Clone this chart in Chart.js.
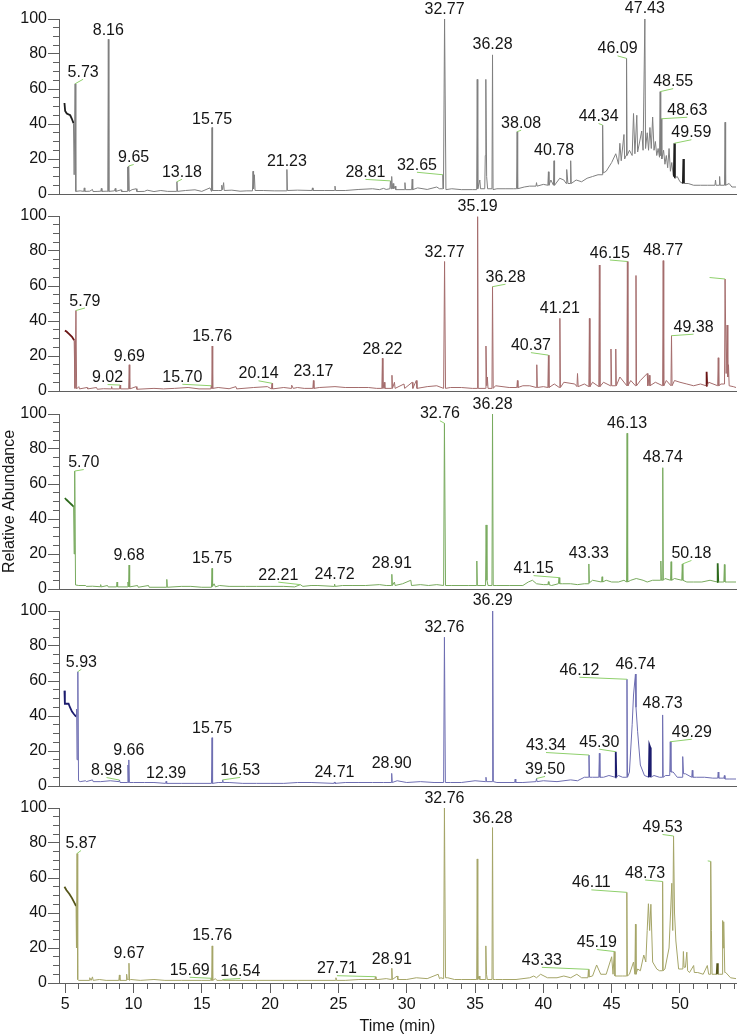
<!DOCTYPE html>
<html><head><meta charset="utf-8">
<script src="https://cdn.jsdelivr.net/npm/chart.js@4.4.1/dist/chart.umd.min.js"></script>
<style>
html,body{margin:0;padding:0;background:#fff;width:737px;height:1036px;overflow:hidden;position:relative}
canvas{position:absolute;left:0}
</style></head><body>
<script>
// ---------------- DATA ----------------
const xTickLabels = [5,10,15,20,25,30,35,40,45,50];
const yTickLabels = [0,20,40,60,80,100];

// trace points [time (min), relative abundance]
const trace1 = [[4.95,52],[5.0,47.5],[5.12,46],[5.37,45],[5.49,43],[5.61,40.5],[5.66,11],[5.73,63],[5.78,1.5],
[6.1,1.8],[6.36,1.5],[6.4,3.5],[6.44,1.5],[6.8,1.6],[7.0,2.6],[7.04,1.4],[7.4,1.5],[7.61,1.6],[7.65,3.2],[7.69,1.5],[8.0,1.6],[8.12,1.5],[8.16,88.4],[8.2,1.5],[8.6,1.8],[8.67,3.2],[8.71,1.5],[9.1,2.4],[9.14,1.4],[9.54,1.5],[9.58,15.5],[9.61,2],[9.65,16],[9.69,1.5],[9.9,2.5],[10.2,3],[10.25,1.4],[10.8,1.5],[11.0,2.2],[11.5,1.4],[12.0,2],[12.5,1.5],[13.14,1.5],[13.18,7],[13.22,1.5],[13.8,2],[14.5,2.4],[15.0,1.5],[15.6,3.5],[15.71,1.5],[15.75,38],[15.79,2],[16.2,2],[16.42,2],[16.46,5],[16.52,2.5],[16.6,6.5],[16.64,2],[17.2,2.2],[17.8,1.6],[18.3,1.8],[18.71,1.8],[18.75,13],[18.79,3],[18.85,11],[18.9,2],[19.5,2],[20.3,1.8],[21.19,1.8],[21.23,14],[21.27,2],[22.0,2.2],[23.06,2],[23.1,3.5],[23.14,2],[24.0,2],[24.71,2],[24.75,4.5],[24.79,2],[25.5,2],[26.5,2.6],[27.5,3],[28.0,2.5],[28.3,3.2],[28.5,2.6],[28.77,3],[28.81,7.5],[28.85,3],[28.9,10],[28.94,3],[29.0,6],[29.05,3],[29.15,4.5],[29.2,2.5],[29.83,2.5],[29.87,6.5],[29.91,2.5],[30.36,2.5],[30.4,8.5],[30.44,2.5],[30.8,3.5],[31.5,2.6],[32.2,4],[32.4,3],[32.61,3],[32.65,11],[32.69,3],[32.77,100],[32.87,2.5],[33.3,3],[34.0,2.5],[34.8,2.5],[35.12,2.5],[35.16,65.5],[35.2,3],[35.35,8],[35.4,3],[35.71,3],[35.75,22],[35.79,65.5],[35.85,10],[35.92,3],[36.24,3],[36.28,79.5],[36.32,2.5],[36.6,3],[37.2,3],[37.8,3],[38.04,3],[38.08,35.6],[38.12,3],[38.6,4],[39.0,4.5],[39.46,4.5],[39.5,6.5],[39.54,4.5],[40.0,5.5],[40.33,5],[40.37,12.7],[40.41,5],[40.55,8],[40.74,5],[40.78,19],[40.82,5],[41.2,9],[41.5,8],[41.67,6],[41.71,14],[41.8,6],[41.96,6],[42.0,19],[42.04,6],[42.4,8],[42.8,7],[43.2,9],[43.6,10],[44.0,11],[44.3,11],[44.34,39.4],[44.38,12],[44.6,13],[45.0,18],[45.3,23],[45.5,17],[45.6,29],[45.7,19],[45.9,34],[45.95,20],[46.05,22],[46.09,77.5],[46.13,22],[46.3,25],[46.5,22],[46.6,46],[46.7,23],[46.84,45],[46.9,24],[47.2,36],[47.3,25],[47.43,100],[47.48,26],[47.6,35],[47.7,25],[47.8,38],[47.9,26],[48.0,44],[48.1,25],[48.2,30],[48.3,22],[48.4,26],[48.5,21],[48.55,58.5],[48.59,22],[48.63,43],[48.67,20],[48.8,25],[48.9,17],[49.0,22],[49.1,15],[49.2,26],[49.3,13],[49.4,18],[49.5,11],[49.55,10],[49.59,29],[49.63,9],[49.8,10],[50.0,7],[50.21,6],[50.25,20],[50.29,6],[50.6,6],[51.0,5],[51.5,5],[52.0,5],[52.56,5],[52.6,8],[52.64,5],[52.86,5],[52.9,10],[52.94,5],[53.26,5],[53.3,41],[53.34,5],[53.6,6],[53.8,4],[54.1,4]];

const trace2 = [[4.98,34.5],[5.1,34],[5.3,32.5],[5.5,31],[5.66,29],[5.72,1.5],[5.79,46],[5.84,1.2],[6.0,2.5],[6.05,1.2],[6.6,2],[6.65,1.2],[7.3,2],[7.35,1],[7.8,1.3],[8.36,1.2],[8.4,2.5],[8.44,1.2],[8.98,1.2],[9.02,3.4],[9.06,1.2],[9.65,1.2],[9.69,15],[9.73,1.2],[10.2,2.5],[10.25,1],[11.5,1.5],[12.2,1.2],[13.0,1.5],[14.0,2],[14.8,1.2],[15.66,1.2],[15.70,3],[15.73,1.5],[15.76,25.7],[15.8,1.5],[16.2,2],[17.0,1.3],[17.5,2.5],[17.55,1.2],[18.8,2],[19.8,2.5],[20.1,1.2],[20.14,4.4],[20.18,1.2],[21.0,2],[21.54,1.5],[21.58,3.3],[21.7,1.5],[22.0,2],[22.5,1.5],[23.13,1.5],[23.17,6],[23.21,1.5],[23.6,2],[24.75,2.5],[25.5,2],[26.5,2],[27.2,2],[27.8,1.5],[28.18,1.5],[28.22,18.7],[28.26,1.5],[28.35,5],[28.4,1.5],[28.88,1.5],[28.92,9],[28.96,1.5],[29.1,5],[29.15,1.5],[29.8,4],[29.85,1.5],[30.4,5],[30.45,1.5],[30.7,6],[30.75,1.5],[31.5,2.5],[32.2,3],[32.7,1.5],[32.77,74],[32.84,1.5],[33.2,2],[34.0,2],[34.8,1.5],[35.15,1.5],[35.19,99.6],[35.23,1.5],[35.76,1.5],[35.8,25.7],[35.86,3],[35.9,8],[35.95,1.5],[36.24,1.5],[36.28,59.6],[36.33,1.5],[36.5,3],[37.5,2],[38.06,2],[38.1,6],[38.14,2],[38.5,3],[39.0,3],[39.48,2],[39.52,15],[39.56,2],[40.0,2.5],[40.33,2],[40.37,20.5],[40.41,2],[40.8,4],[41.17,2],[41.21,41.5],[41.25,2],[41.5,5],[42.3,4],[42.46,2.5],[42.5,10],[42.55,2.5],[43.0,4],[43.33,2.5],[43.37,41.5],[43.41,2.5],[43.6,5],[44.06,2.5],[44.10,72],[44.14,2.5],[44.4,5],[44.91,3],[44.95,24],[45.0,3],[45.26,3],[45.3,24],[45.34,3],[45.6,8],[46.11,3],[46.15,74],[46.19,3],[46.4,6],[46.74,3],[46.78,66],[46.82,3],[47.1,6],[47.6,10],[47.65,3],[47.75,9],[47.8,3],[48.2,5],[48.73,3],[48.77,74.5],[48.81,3],[49.0,6],[49.34,3],[49.38,31.6],[49.42,3],[49.6,6],[50.0,5],[50.5,4],[51.0,3],[51.5,4],[51.91,3],[51.95,11],[51.99,3],[52.1,5],[52.76,3],[52.8,19],[52.84,3],[53.0,4],[53.26,4],[53.3,64],[53.38,10],[53.45,37.7],[53.5,8],[53.55,15],[53.6,3],[53.9,2.5],[54.1,2]];

const trace3 = [[4.98,52],[5.1,51],[5.3,49.5],[5.5,48],[5.62,47],[5.66,20],[5.70,67.4],[5.76,2.3],[6.0,2],[6.5,2],[6.55,1.5],[7.0,1.6],[7.56,1.3],[7.6,2.5],[7.64,1.2],[8.1,2],[8.15,1.2],[8.76,1.2],[8.8,4],[8.84,1.2],[9.56,1.2],[9.6,4],[9.64,1.2],[9.68,13.7],[9.72,1.2],[10.3,2],[10.35,1],[11.1,2],[11.15,1],[12.4,1],[12.44,5.5],[12.48,1],[13.5,1.5],[14.2,1.5],[15.0,1],[15.71,1],[15.75,11.8],[15.79,1.5],[15.9,3],[16.0,1.2],[16.3,2],[17.0,1.5],[18.2,1.5],[19.0,1.5],[20.0,1.5],[21.0,1.5],[21.8,1.2],[22.21,2.5],[22.4,1.5],[23.0,2],[23.5,2],[24.68,1.5],[24.72,2.8],[24.76,1.5],[25.3,2],[26.0,2],[27.0,2],[28.0,2.5],[28.5,2],[28.87,2],[28.91,8.4],[28.95,2],[29.1,4],[29.15,2],[29.7,3],[30.3,5],[30.35,2],[31.0,2.5],[31.6,2],[32.2,2.5],[32.7,2],[32.76,94.7],[32.84,2],[33.3,2],[34.5,2],[35.09,2],[35.13,16],[35.17,2],[35.77,2],[35.81,36.6],[35.87,5],[35.95,2],[36.24,2],[36.28,100],[36.33,2],[36.6,2],[37.5,2],[38.5,2],[38.9,4],[39.2,5],[39.5,3],[40.0,2.5],[40.33,2.5],[40.37,4.2],[40.41,2.5],[40.6,2],[41.1,3],[41.15,6.5],[41.2,3],[41.4,3],[42.0,3],[42.5,2.5],[43.0,3],[43.29,3],[43.33,14.3],[43.37,3.5],[43.6,5],[44.26,4],[44.3,7],[44.34,4],[44.6,5],[45.0,4],[45.5,4],[45.9,5],[46.09,4],[46.13,89],[46.17,4],[46.4,5],[46.8,6],[47.3,5],[47.6,4],[48.0,5],[48.56,5],[48.6,16],[48.64,5],[48.7,5],[48.74,69.3],[48.78,5],[48.9,6],[49.31,5],[49.35,15.6],[49.39,5],[49.6,6],[50.13,5],[50.17,14.3],[50.21,5],[50.5,4],[51.0,4],[51.6,4],[52.2,5],[52.72,4],[52.76,14.7],[52.8,4],[53.0,4],[53.21,4],[53.25,14],[53.29,4],[53.5,4],[54.1,4]];

const trace4 = [[4.95,54.5],[4.98,47],[5.25,47],[5.35,45],[5.5,42.5],[5.65,41],[5.8,39.6],[5.84,44],[5.87,15],[5.93,65.3],[5.98,3],[6.1,2.5],[6.5,3],[6.55,2.5],[7.0,3.5],[7.05,2.5],[7.6,2.5],[8.3,3],[8.94,2.5],[8.98,3.4],[9.02,2],[9.56,2],[9.60,12],[9.63,2],[9.66,14.9],[9.7,2],[10.0,2],[10.8,2],[11.5,2],[12.35,1.5],[12.39,2.7],[12.43,1.5],[13.5,1.5],[14.5,1.5],[15.71,1.5],[15.75,27.6],[15.79,1.5],[16.2,2],[16.49,2],[16.53,3.5],[16.57,2],[17.0,2],[18.0,1.5],[19.0,1.5],[20.0,1.5],[21.0,1.5],[22.0,2],[23.0,2],[24.67,1.5],[24.71,2.3],[24.75,1.5],[25.5,2],[26.5,2],[27.5,2],[28.3,2],[28.86,2],[28.90,7.2],[28.94,2],[29.3,3],[30.0,2],[31.0,2.5],[32.0,2],[32.7,2],[32.76,85],[32.83,2],[33.2,2],[34.0,2],[35.0,3],[35.76,2.5],[35.8,5],[35.84,2.5],[36.25,2.5],[36.29,100],[36.34,2.5],[36.6,2],[37.9,2],[37.94,4],[37.98,2],[38.5,2],[39.46,2.5],[39.50,4.3],[39.54,2.5],[40.0,3],[41.0,2.5],[42.0,3.5],[42.5,3],[43.0,5],[43.3,5],[43.34,17.7],[43.38,5],[43.6,5],[44.06,5],[44.10,18.7],[44.14,5],[44.4,5],[44.8,6],[45.26,5],[45.30,19.6],[45.34,5],[45.5,6],[45.8,5],[46.08,5],[46.12,61],[46.16,5],[46.3,8],[46.5,35],[46.6,52],[46.74,64],[46.78,45],[46.9,31],[47.1,12],[47.4,6],[47.72,5],[47.76,23.4],[47.82,22],[47.86,5],[48.1,6],[48.5,5],[48.69,5],[48.73,40.6],[48.77,5],[48.95,6],[49.25,6],[49.29,25.3],[49.34,8],[49.5,8],[49.8,5],[50.16,5],[50.2,16.8],[50.26,7],[50.4,7],[50.86,5],[50.9,9],[50.94,5],[51.2,5],[51.8,5],[52.4,4.5],[52.76,4.5],[52.8,8],[52.84,4.5],[53.21,4.5],[53.25,6],[53.29,4],[53.6,4],[54.1,4]];

const trace5 = [[4.95,55],[5.1,53],[5.3,51],[5.5,48.5],[5.7,45.5],[5.8,44],[5.83,20],[5.87,74],[5.92,2],[6.0,1.5],[6.76,1.5],[6.8,3],[6.9,1.5],[7.0,3.5],[7.05,1.5],[7.5,2],[8.0,1.5],[8.93,1.5],[8.97,4.6],[9.01,1.5],[9.46,1.5],[9.5,5],[9.55,2],[9.63,2],[9.67,11.3],[9.71,1.5],[9.8,2],[10.5,1.5],[11.5,2],[12.3,1.5],[13.5,1.5],[15.0,1.5],[15.65,1.5],[15.69,2.7],[15.72,1.5],[15.76,21.2],[15.8,1.5],[16.0,2.5],[16.1,1.5],[16.5,1.5],[16.54,2],[16.58,1.5],[17.5,1.5],[19.0,1.5],[20.0,1.5],[21.0,1.5],[22.0,1.5],[23.0,1.5],[24.78,1.5],[24.82,3],[24.86,1.5],[25.5,1.5],[26.5,2],[27.67,2],[27.71,3.6],[27.75,2],[27.9,2],[28.5,2.5],[28.87,2],[28.91,8.4],[28.95,2],[29.3,4],[29.35,2],[30.0,2],[30.7,3],[31.5,2.5],[32.3,5],[32.4,2.5],[32.5,3],[32.7,2.5],[32.76,100],[32.84,3],[33.0,3],[33.5,2],[34.0,2],[34.7,2],[35.12,2],[35.16,70.9],[35.2,2],[35.3,4],[35.35,2],[35.75,2],[35.79,21.2],[35.84,5],[35.9,2],[36.24,2],[36.28,88.8],[36.33,2],[36.5,2],[37.0,2],[38.0,2],[39.0,3],[39.3,4],[39.5,3],[39.8,5],[40.3,3],[41.0,3],[41.5,4],[42.0,3],[42.45,5],[42.8,3],[43.26,3],[43.30,7.8],[43.34,3.5],[43.6,4],[43.9,10.3],[44.2,5],[44.6,5],[45.0,15],[45.1,5],[45.15,5],[45.19,18],[45.24,4],[45.4,4],[45.8,4],[46.07,4],[46.11,51.8],[46.15,4],[46.3,5],[46.6,12],[46.7,5],[46.74,33.6],[46.78,5],[46.9,8],[47.1,7],[47.35,16],[47.5,12],[47.6,30],[47.69,45.3],[47.78,30],[47.87,45],[48.0,12],[48.3,8],[48.5,7],[48.69,7],[48.73,58],[48.77,7],[48.9,8],[49.2,20],[49.4,57],[49.47,30],[49.53,84],[49.6,40],[49.7,24],[49.9,8],[50.21,8],[50.25,18],[50.3,9],[50.4,9],[50.5,17.6],[50.56,7],[50.7,6],[51.0,10],[51.05,6],[51.3,6],[51.7,5],[52.0,10],[52.1,5],[52.21,5],[52.25,69.5],[52.3,30],[52.35,5],[52.5,5],[52.69,5],[52.73,11.3],[52.77,5],[52.9,5],[53.08,5],[53.12,35.7],[53.16,20],[53.2,35],[53.28,6],[53.35,6],[53.7,3],[54.1,2.5]];

// labelled peaks: retention time text and peak abundance
const peaks1Text = ['5.73','8.16','9.65','13.18','15.75','21.23','28.81','32.65','32.77','36.28','38.08','40.78','44.34','46.09','47.43','48.55','48.63','49.59'];
const peaks1Abund = [63,88.4,16,7,38,14,7.5,11,100,79.5,35.6,19,39.4,77.5,100,58.5,43,29];
const peaks2Text = ['5.79','9.02','9.69','15.70','15.76','20.14','23.17','28.22','32.77','35.19','36.28','40.37','41.21','46.15','48.77','49.38','53.30'];
const peaks2Abund = [46,3.4,15,3,25.7,4.4,6,18.7,74,99.6,59.6,20.5,41.5,74,74.5,31.6,64];
const peaks3Text = ['5.70','9.68','15.75','22.21','24.72','28.91','32.76','36.28','41.15','43.33','46.13','48.74','50.18'];
const peaks3Abund = [67.4,13.7,11.8,2.5,2.8,8.4,94.7,100,6.5,14.3,89,69.3,14.3];
const peaks4Text = ['5.93','8.98','9.66','12.39','15.75','16.53','24.71','28.90','32.76','36.29','39.50','43.34','45.30','46.12','46.74','48.73','49.29'];
const peaks4Abund = [65.3,3.4,14.9,2.7,27.6,3.5,2.3,7.2,85,100,4.3,17.7,19.6,61,64,40.6,25.3];
const peaks5Text = ['5.87','9.67','15.69','15.76','16.54','27.71','28.91','32.76','36.28','43.33','45.19','46.11','48.73','49.53','52.25'];
const peaks5Abund = [74,11.3,2.7,21.2,2,3.6,8.4,100,88.8,7.8,18,51.8,58,84,69.5];

// ---------------- STYLE / LAYOUT ----------------
const FONT = '"Liberation Sans", Arial, Helvetica, sans-serif';
const AXIS = '#5f5f5f';
const LEADER = '#8fd06c';
const X_MIN = 4.55, X_MAX = 54.1;
const AREA_TOP = [19,216,414,611,808];
const AREA_H = 175;
const PAD_TOP = 19, PAD_BOT = 12;
const panels = [
  {trace: trace1, text: peaks1Text, abund: peaks1Abund, color:'#7f7f7f', dark:'#1e1e1e',
   darkRanges:[[4.9,5.615],[49.54,49.64],[50.2,50.3]],
   hidden:[],
   offsets:[[8,-7],[0,-4],[5,-4],[5,-5],[0,-4],[0,-4],[-25,-4],[-26,-5],[0,-5],[0,-6],[4,-4],[0,-6],[-4,-4],[-9,-5],[0,-6],[13,-5.5],[26,-4],[17,-6]]},
  {trace: trace2, text: peaks2Text, abund: peaks2Abund, color:'#a46c6c', dark:'#6a1414',
   darkRanges:[[4.9,5.665],[51.9,52.0]],
   hidden:[16],
   offsets:[[9,-5],[-12.5,-3],[0,-4],[-29,-4],[0,-5],[-13.5,-5],[0,-5],[0,-4.5],[0,-5],[0,-6],[13,-5],[-17.5,-5],[0,-5.5],[-17.5,-4],[0,-5.5],[22,-4],[-15.5,-4]]},
  {trace: trace3, text: peaks3Text, abund: peaks3Abund, color:'#78aa5e', dark:'#2d6a1c',
   darkRanges:[[4.9,5.625],[52.7,52.81]],
   hidden:[],
   offsets:[[9,-4],[0,-5],[0,-5],[-22,-5],[0,-5.5],[0,-6],[-4.5,-5],[0,-5],[-25.5,-4.5],[0,-6],[0,-5.5],[0,-5.5],[9,-6]]},
  {trace: trace4, text: peaks4Text, abund: peaks4Abund, color:'#6e6eb2', dark:'#1c1c6e',
   darkRanges:[[4.9,5.805],[45.25,45.35],[47.7,47.9]],
   hidden:[],
   offsets:[[3.5,-5],[-13,-5],[0,-5],[0,-3.5],[0,-5],[17.5,-5],[0,-5],[0,-5],[0,-5.5],[0,-6],[8.5,-4.5],[-43,-5],[-16.5,-5],[-47.5,-4.5],[0,-5.5],[0,-6.5],[21.5,-5]]},
  {trace: trace5, text: peaks5Text, abund: peaks5Abund, color:'#a5a568', dark:'#55551a',
   darkRanges:[[4.9,5.805],[52.68,52.78]],
   hidden:[14],
   offsets:[[4,-5.5],[0,-5.5],[-21.5,-3.5],[0,-5.5],[17.5,-3.5],[-38.5,-3.5],[0,-4.5],[0,-5],[0,-5],[-47,-4.5],[-17.5,-4.5],[-35.5,-5],[-17.5,-4],[-11,-4],[-3,-3]]}
];

const peakLabelPlugin = {
  id: 'peakLabels',
  afterDatasetsDraw(chart, args, opts) {
    const {ctx} = chart;
    const xs = chart.scales.x, ys = chart.scales.y;
    ctx.save();
    ctx.font = '16px ' + FONT;
    ctx.textAlign = 'center';
    ctx.textBaseline = 'alphabetic';
    opts.text.forEach((t, k) => {
      const px = xs.getPixelForValue(parseFloat(t));
      const py = ys.getPixelForValue(opts.abund[k]);
      const [dx, dy] = opts.offsets[k];
      if (dx !== 0) {
        ctx.strokeStyle = LEADER; ctx.lineWidth = 1;
        ctx.beginPath(); ctx.moveTo(px, py); ctx.lineTo(px + dx, py + dy + 2.5); ctx.stroke();
      }
      if (!opts.hidden.includes(k)) {
        ctx.fillStyle = '#151515';
        ctx.fillText(t, px + dx, py + dy);
      }
    });
    ctx.restore();
  }
};

panels.forEach((p, i) => {
  const last = i === panels.length - 1;
  const top = AREA_TOP[i] - PAD_TOP;
  const h = last ? (1036 - top) : (AREA_H + PAD_TOP + PAD_BOT);
  const cv = document.createElement('canvas');
  cv.width = 737; cv.height = h;
  cv.style.top = top + 'px'; cv.style.width = '737px'; cv.style.height = h + 'px';
  document.body.appendChild(cv);
  const isDark = c => p.darkRanges.some(([a, b]) => c.p0.parsed.x >= a && c.p1.parsed.x <= b);
  const xAxisHeight = last ? (h - PAD_TOP - AREA_H) : 0;
  new Chart(cv.getContext('2d'), {
    type: 'line',
    data: {datasets: [{
      data: p.trace.map(([x, y]) => ({x, y})),
      borderColor: p.color, borderWidth: 1, pointRadius: 0, tension: 0, fill: false,
      segment: {
        borderColor: c => isDark(c) ? p.dark : undefined,
        borderWidth: c => isDark(c) ? 1.8 : undefined
      }
    }]},
    options: {
      responsive: false, animation: false, events: [],
      layout: {padding: {top: PAD_TOP, bottom: last ? 0 : PAD_BOT, left: 0, right: 1}},
      plugins: {legend: {display: false}, tooltip: {enabled: false},
        peakLabels: {text: p.text, abund: p.abund, offsets: p.offsets, hidden: p.hidden}},
      scales: {
        x: {
          type: 'linear', position: 'bottom', min: X_MIN, max: X_MAX,
          afterFit: s => { s.height = xAxisHeight; },
          border: {display: true, color: AXIS, width: 1},
          grid: {drawOnChartArea: false, drawTicks: last, tickLength: 10, tickColor: AXIS, tickWidth: 1,
            tickBorderDash: c => (c.tick && xTickLabels.includes(c.tick.value)) ? [] : [5, 40]},
          ticks: last ? {
            display: true, stepSize: 1, includeBounds: false, autoSkip: false, maxRotation: 0, padding: 2,
            color: '#151515', font: {family: FONT, size: 16},
            callback: v => xTickLabels.includes(v) ? String(v) : ''
          } : {display: false},
          title: {display: last, text: 'Time (min)', color: '#151515', font: {family: FONT, size: 16}, padding: 0}
        },
        y: {
          min: 0, max: 100, position: 'left',
          afterFit: s => { s.width = 59; },
          border: {display: true, color: AXIS, width: 1},
          grid: {drawOnChartArea: false, drawTicks: true, tickLength: 11, tickColor: AXIS, tickWidth: 1,
            tickBorderDash: c => (c.tick && yTickLabels.includes(c.tick.value)) ? [] : [6, 50],
            tickBorderDashOffset: c => (c.tick && yTickLabels.includes(c.tick.value)) ? 0 : 51},
          ticks: {stepSize: 5, autoSkip: false, padding: 1, color: '#151515', font: {family: FONT, size: 16},
            callback: v => yTickLabels.includes(v) ? String(v) : ''},
          title: {display: i === 2, text: 'Relative Abundance', color: '#151515', font: {family: FONT, size: 16}, padding: 0}
        }
      }
    },
    plugins: [peakLabelPlugin]
  });
});
</script>
</body></html>
